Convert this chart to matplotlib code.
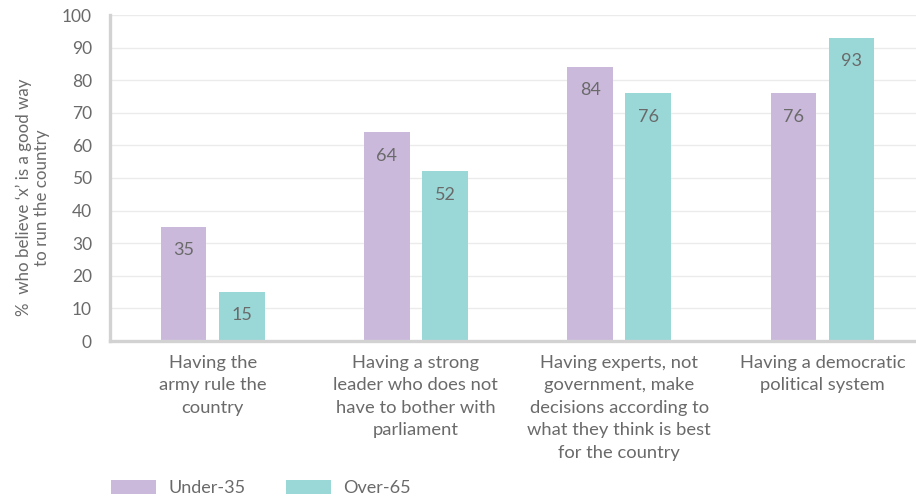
import numpy as np
import matplotlib.pyplot as plt

plt.rcParams['font.family'] = ['Lato', 'DejaVu Sans']

categories = [
    "Having the\narmy rule the\ncountry",
    "Having a strong\nleader who does not\nhave to bother with\nparliament",
    "Having experts, not\ngovernment, make\ndecisions according to\nwhat they think is best\nfor the country",
    "Having a democratic\npolitical system",
]
under_35 = [35, 64, 84, 76]
over_65 = [15, 52, 76, 93]
series_names = ["Under-35", "Over-65"]

purple = "#cbb9dc"
teal = "#9ad8d8"
text_col = "#6a6a6a"
axis_col = "#d2d2d2"

fig = plt.figure(figsize=(9.16, 5.01), dpi=100)
ax = fig.add_axes([110 / 916, 1 - 341 / 501, 1 - 110 / 916, (341 - 15) / 501])

x = np.arange(len(categories))
w = 0.225
off = 0.143
b1 = ax.bar(x - off, under_35, w, color=purple, label=series_names[0], zorder=3)
b2 = ax.bar(x + off, over_65, w, color=teal, label=series_names[1], zorder=3)

# value labels just inside the top of each bar
for bars in (b1, b2):
    for bar in bars:
        h = bar.get_height()
        ax.annotate(f"{h:.0f}", (bar.get_x() + bar.get_width() / 2, h),
                    xytext=(0, -11), textcoords="offset points",
                    ha="center", va="top", fontsize=13, color=text_col, zorder=4)

ax.set_xlim(-0.505, 3.46)
ax.set_ylim(0, 100)
ax.set_yticks(range(0, 101, 10))
ax.set_xticks(x)
ax.set_xticklabels(categories, fontsize=13.2, color=text_col, linespacing=1.5)
ax.tick_params(axis="x", length=0, pad=10)
ax.tick_params(axis="y", length=0, pad=13, labelsize=12.5, labelcolor=text_col)

ax.grid(axis="y", color="#ebebeb", linewidth=1, zorder=0)
for s in ("top", "right"):
    ax.spines[s].set_visible(False)
for s in ("left", "bottom"):
    ax.spines[s].set_color(axis_col)
    ax.spines[s].set_linewidth(2.4)
    ax.spines[s].set_zorder(5)

ax.text(-0.096, 0.44, "%  who believe \u2018x\u2019 is a good way\nto run the country",
        transform=ax.transAxes, rotation=90, ha="center", va="center",
        multialignment="center", fontsize=12.2, color=text_col, linespacing=1.15)

fig.legend(loc="center left", bbox_to_anchor=(111 / 916, 13 / 501), ncol=2,
           frameon=False, borderpad=0, borderaxespad=0, fontsize=13,
           handlelength=2.5, handleheight=0.85, handletextpad=0.7,
           columnspacing=2.2, labelcolor=text_col)

fig.savefig("out.png", dpi=100)
